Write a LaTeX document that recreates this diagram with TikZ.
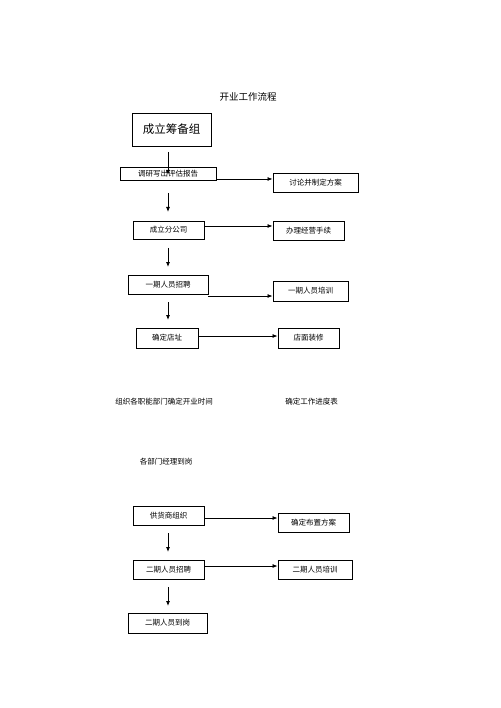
\documentclass[tikz,border=0pt]{standalone}
\usepackage{fontspec}
\setmainfont{Noto Sans CJK SC}
\usetikzlibrary{arrows.meta}
\begin{document}
\begin{tikzpicture}[x=1pt,y=-1pt,
	box/.style={draw,line width=.9pt,inner sep=0pt,font=\fontsize{7.5}{9}\selectfont},
	lbl/.style={inner sep=0pt,font=\fontsize{7.5}{9}\selectfont},
	arr/.style={line width=.8pt,-{Latex[length=5pt,width=4pt]}}]
		\useasboundingbox(0,0)rectangle(500,708);
		\node[lbl,font=\fontsize{9.5}{11}\selectfont](title)at(248,97){开业工作流程};
		\node[box,minimum width=79pt,minimum height=33pt,font=\fontsize{11.5}{13}\selectfont](zb)at(171.5,129.5){成立筹备组};
		\node[box,minimum width=96pt,minimum height=13pt](dy)at(168,173.5){调研写出评估报告};
		\node[box,minimum width=85pt,minimum height=19pt](tl)at(315.5,182.5){讨论并制定方案};
		\node[box,minimum width=71pt,minimum height=18pt](fgs)at(168.5,230){成立分公司};
		\node[box,minimum width=71pt,minimum height=19pt](bl)at(308.5,230.5){办理经营手续};
		\node[box,minimum width=80pt,minimum height=19pt](yq)at(168,284.5){一期人员招聘};
		\node[box,minimum width=75pt,minimum height=20pt](yp)at(310.5,291){一期人员培训};
		\node[box,minimum width=62pt,minimum height=20pt](dz)at(167,338){确定店址};
		\node[box,minimum width=61pt,minimum height=20pt](zx)at(308.5,338){店面装修};
		\node[lbl](sj)at(164,402){组织各职能部门确定开业时间};
		\node[lbl](jd)at(311.5,402){确定工作进度表};
		\node[lbl](dg)at(166,462){各部门经理到岗};
		\node[box,minimum width=71pt,minimum height=19pt](gh)at(168.5,515.5){供货商组织};
		\node[box,minimum width=71pt,minimum height=19pt](bz)at(313.5,522.5){确定布置方案};
		\node[box,minimum width=71pt,minimum height=19pt](eq)at(168.5,569.5){二期人员招聘};
		\node[box,minimum width=74pt,minimum height=19pt](ep)at(315,569.5){二期人员培训};
		\node[box,minimum width=79pt,minimum height=20pt](ed)at(167.5,623){二期人员到岗};
		% vertical arrows
		\foreach\a/\b in{152/175,193/212,248/267,302/320,533/552,587/606}{
			\coordinate(V1)at(168,\a);
			\coordinate(V2)at(168,\b);
			\draw[arr](V1)--(V2);}
		% horizontal arrows
		\draw[arr](dy.east|-0,179)--(tl.west|-0,179);
		\draw[arr](fgs.east|-0,226)--(bl.west|-0,226);
		\draw[arr](yq.east|-0,296)--(yp.west|-0,296);
		\draw[arr](dz.east|-0,336)--(zx.west|-0,336);
		\draw[arr](gh.east|-0,518)--(bz.west|-0,518);
		\draw[arr](eq.east|-0,566)--(ep.west|-0,566);
\end{tikzpicture}
\end{document}
